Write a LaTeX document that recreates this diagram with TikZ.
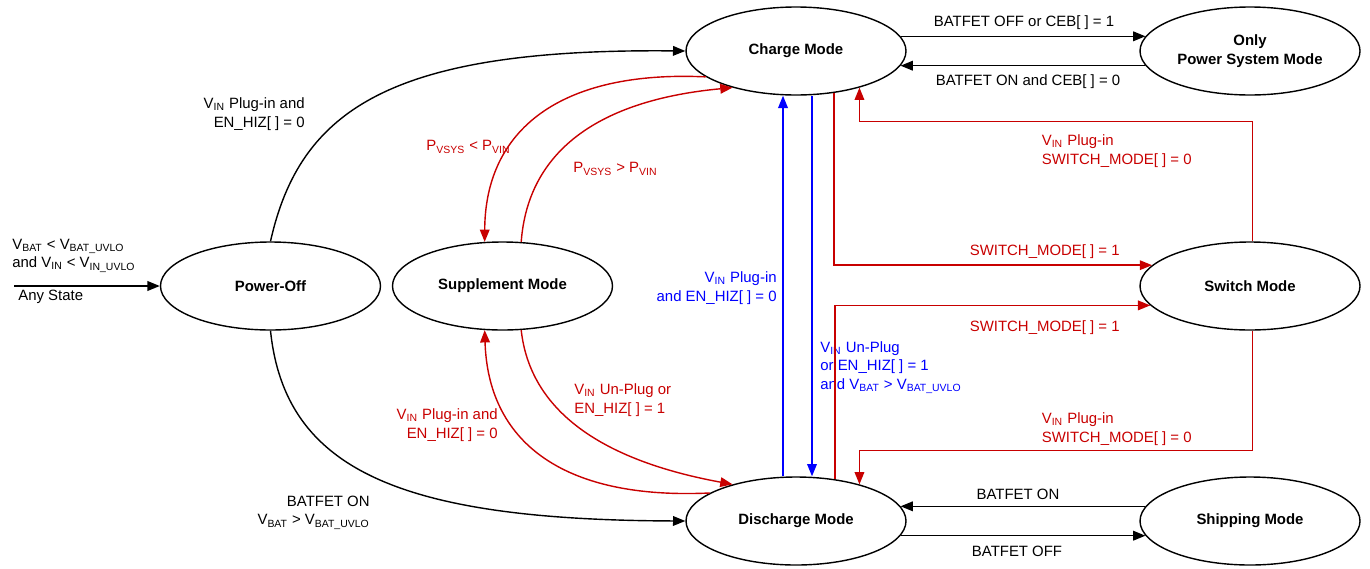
\documentclass[tikz,border=0pt]{standalone}
\usepackage{fontspec}
\setmainfont{Liberation Sans}
\usetikzlibrary{arrows.meta,shapes.geometric}

\begin{document}
\begin{tikzpicture}[
    mode/.style={ellipse, draw=black, line width=0.8pt, minimum width=4.4cm, minimum height=1.76cm, inner sep=0pt, align=center, font=\fontsize{8.5}{10.5}\selectfont\bfseries},
    trans/.style={line width=0.8pt, -{Triangle[length=7pt,width=5.5pt]}},
    lbl/.style={inner sep=0pt, font=\fontsize{8.5}{10.5}\selectfont}
]

    % Colores de las transiciones
    \definecolor{c_red}{RGB}{200, 0, 0}
    \definecolor{c_blue}{RGB}{0, 0, 255}

    \useasboundingbox (0,0) rectangle (27.4,11.36);

    % Estados
    \node[mode] (poweroff)  at (5.41, 5.64)  {Power-Off};
    \node[mode] (suppl)     at (10.05, 5.64) {Supplement Mode};
    \node[mode] (charge)    at (15.92, 10.34) {Charge Mode};
    \node[mode] (discharge) at (15.92, 0.94) {Discharge Mode};
    \node[mode] (onlyps)    at (25.0, 10.34) {Only\\Power System Mode};
    \node[mode] (switchm)   at (25.0, 5.64)  {Switch Mode};
    \node[mode] (shipping)  at (25.0, 0.94)  {Shipping Mode};

    % Entrada desde cualquier estado
    \coordinate (anystate) at (0.28, 5.64);
    \draw[trans] (anystate) -- (poweroff.west);
    \node[lbl, anchor=west, align=left] (l_uvlo) at (0.24, 6.25) {V\textsubscript{BAT} < V\textsubscript{BAT\_UVLO}\\and V\textsubscript{IN} < V\textsubscript{IN\_UVLO}};
    \node[lbl, anchor=west] (l_any) at (0.36, 5.42) {Any State};

    % --- Power-Off ---
    \draw[trans] (poweroff.north) .. controls (6.0, 9.16) and (7.8, 10.4) .. (charge.west);
    \draw[trans] (poweroff.south) .. controls (5.7, 1.96) and (8.0, 0.96) .. (discharge.west);
    \node[lbl, anchor=east, align=right] (l_plugin) at (6.1, 9.08) {V\textsubscript{IN} Plug-in and\\EN\_HIZ[ ] = 0};
    \node[lbl, anchor=east, align=right] (l_batfet) at (7.4, 1.11) {BATFET ON\\V\textsubscript{BAT} > V\textsubscript{BAT\_UVLO}};

    % --- Supplement Mode ---
    \draw[trans, c_red] (charge.196) .. controls (11.2, 9.96) and (9.7, 8.76) .. (suppl.112);
    \draw[trans, c_red] (suppl.67) .. controls (10.56, 8.36) and (12.0, 9.36) .. (charge.210);
    \draw[trans, c_red] (discharge.162) .. controls (11.2, 1.36) and (9.76, 2.56) .. (suppl.248);
    \draw[trans, c_red] (suppl.293) .. controls (10.6, 3.16) and (12.0, 2.16) .. (discharge.150);
    \node[lbl, text=c_red] (l_pless) at (9.37, 8.42) {P\textsubscript{VSYS} < P\textsubscript{VIN}};
    \node[lbl, text=c_red] (l_pmore) at (12.31, 7.98) {P\textsubscript{VSYS} > P\textsubscript{VIN}};
    \node[lbl, text=c_red, anchor=east, align=right] (l_supin) at (9.96, 2.86) {V\textsubscript{IN} Plug-in and\\EN\_HIZ[ ] = 0};
    \node[lbl, text=c_red, anchor=west, align=left] (l_supout) at (11.48, 3.36) {V\textsubscript{IN} Un-Plug or\\EN\_HIZ[ ] = 1};

    % --- Charge <-> Discharge ---
    \draw[trans, c_blue] ([xshift=-0.26cm]discharge.north) -- ([xshift=-0.26cm]charge.south);
    \draw[trans, c_blue] ([xshift=0.32cm]charge.south) -- ([xshift=0.32cm]discharge.north);
    \node[lbl, text=c_blue, anchor=east, align=right] (l_up) at (15.54, 5.6) {V\textsubscript{IN} Plug-in\\and EN\_HIZ[ ] = 0};
    \node[lbl, text=c_blue, anchor=west, align=left] (l_down) at (16.4, 4.01) {V\textsubscript{IN} Un-Plug\\or EN\_HIZ[ ] = 1\\and V\textsubscript{BAT} > V\textsubscript{BAT\_UVLO}};

    % --- Switch Mode ---
    \draw[trans, c_red] (charge.-48) |- (switchm.168);
    \draw[trans, c_red] (discharge.47) |- (switchm.191);
    \draw[trans, c_red] (switchm.87) -- ++(0, 2.4) -| (charge.-30);
    \draw[trans, c_red] (switchm.-87) -- ++(0, -2.4) -| (discharge.30);
    \node[lbl, text=c_red, anchor=east] (l_sw1a) at (22.4, 6.32) {SWITCH\_MODE[ ] = 1};
    \node[lbl, text=c_red, anchor=east] (l_sw1b) at (22.4, 4.8) {SWITCH\_MODE[ ] = 1};
    \node[lbl, text=c_red, anchor=west, align=left] (l_sw0a) at (20.83, 8.34) {V\textsubscript{IN} Plug-in\\SWITCH\_MODE[ ] = 0};
    \node[lbl, text=c_red, anchor=west, align=left] (l_sw0b) at (20.83, 2.78) {V\textsubscript{IN} Plug-in\\SWITCH\_MODE[ ] = 0};

    % --- Only Power System / Shipping ---
    \draw[trans] (charge.8) -- (onlyps.172);
    \draw[trans] (onlyps.188) -- (charge.-8);
    \draw[trans] (shipping.172) -- (discharge.8);
    \draw[trans] (discharge.-8) -- (shipping.188);
    \node[lbl] (l_cebon)  at (20.48, 10.9) {BATFET OFF or CEB[ ] = 1};
    \node[lbl] (l_cebon2) at (20.56, 9.72) {BATFET ON and CEB[ ] = 0};
    \node[lbl] (l_shon)   at (20.36, 1.48) {BATFET ON};
    \node[lbl] (l_shoff)  at (20.34, 0.34) {BATFET OFF};

\end{tikzpicture}
\end{document}
